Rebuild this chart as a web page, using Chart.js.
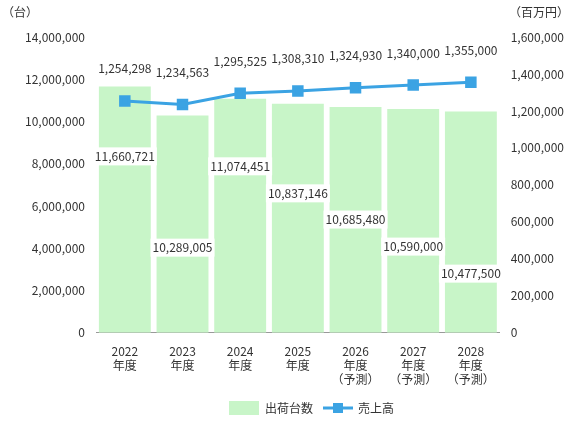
<!DOCTYPE html>
<html><head><meta charset="utf-8">
<script src="https://cdn.jsdelivr.net/npm/chart.js@4"></script>
<style>html,body{margin:0;background:#fff}#w{width:571px;height:429px}</style>
</head><body><div id="w"><canvas id="c"></canvas></div>
<script>
const categories=[["2022","年度"],["2023","年度"],["2024","年度"],["2025","年度"],["2026","年度","（予測）"],["2027","年度","（予測）"],["2028","年度","（予測）"]];
const units=[11660721,10289005,11074451,10837146,10685480,10590000,10477500];
const sales=[1254298,1234563,1295525,1308310,1324930,1340000,1355000];
const unitLabelY=[8350000,4030000,7880000,6600000,5360000,4080000,2800000];
const F='"Noto Sans CJK JP", sans-serif';
const fmt=v=>v.toLocaleString('en-US');
const deco={id:'deco',afterDatasetsDraw(ch){
 const c=ch.ctx,y=ch.scales.y,yr=ch.scales.y1;
 c.save();c.font='12px '+F;c.fillStyle='#333';c.textBaseline='middle';c.textAlign='center';
 const bm=ch.getDatasetMeta(1),lm=ch.getDatasetMeta(0);
 units.forEach((v,i)=>{const x=bm.data[i].x,py=y.getPixelForValue(unitLabelY[i]);const t=fmt(v),w=c.measureText(t).width+4;
  c.fillStyle='#fff';c.fillRect(x-w/2,py-9,w,18);c.fillStyle='#333';c.fillText(t,x,py);});
 sales.forEach((v,i)=>{const p=lm.data[i];c.fillText(fmt(v),p.x,p.y-32);});
 c.textAlign='left';c.fillText('（台）',2,12);c.textAlign='right';c.fillText('（百万円）',569,12);
 const ly=408;c.fillStyle='#c8f5c8';c.fillRect(229,ly-7,30,14);c.fillStyle='#333';c.textAlign='left';c.fillText('出荷台数',265,ly);
 c.strokeStyle='#3ba3e3';c.lineWidth=3;c.beginPath();c.moveTo(323,ly);c.lineTo(353,ly);c.stroke();c.fillStyle='#3ba3e3';c.fillRect(333,ly-5,10,10);
 c.fillStyle='#333';c.fillText('売上高',358,ly);
 c.restore();}};
new Chart(document.getElementById('c'),{data:{labels:categories,datasets:[
 {type:'line',data:sales,yAxisID:'y1',borderColor:'#3ba3e3',backgroundColor:'#3ba3e3',borderWidth:3,pointStyle:'rect',pointRadius:6,order:0},
 {type:'bar',data:units,yAxisID:'y',backgroundColor:'#c8f5c8',categoryPercentage:1,barPercentage:0.9,order:1}]},
 options:{responsive:true,maintainAspectRatio:false,animation:false,
 layout:{padding:{top:37,bottom:39,left:4,right:4}},
 plugins:{legend:{display:false},tooltip:{enabled:false}},
 scales:{x:{grid:{display:false},border:{color:'#999'},ticks:{color:'#333',font:{family:F,size:12},maxRotation:0}},
 y:{min:0,max:14000000,afterFit:s=>{s.width=92;},ticks:{stepSize:2000000,color:'#333',font:{family:F,size:12},callback:v=>fmt(v)},grid:{display:false},border:{display:false}},
 y1:{position:'right',min:0,max:1600000,ticks:{stepSize:200000,color:'#333',font:{family:F,size:12},callback:v=>fmt(v)},grid:{display:false},border:{display:false}}}},
 plugins:[deco]});
</script></body></html>
